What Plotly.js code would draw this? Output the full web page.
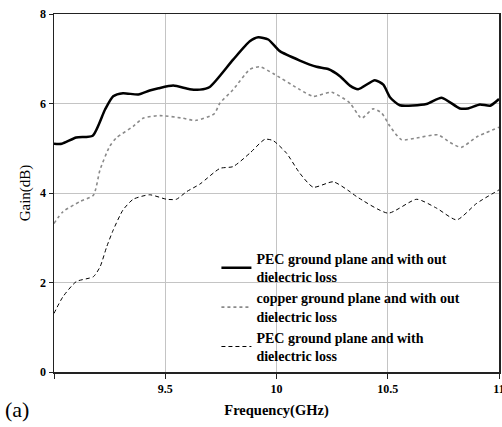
<!DOCTYPE html>
<html>
<head>
<meta charset="utf-8">
<script src="https://cdn.plot.ly/plotly-3.0.1.min.js"></script>
<style>html,body{margin:0;padding:0;background:#fff;}#chart{width:502px;height:427px;}</style>
</head>
<body>
<div id="chart"></div>
<script>
// Series 1: PEC ground plane, no dielectric loss
const freq1 = [9.0, 9.035, 9.10, 9.174, 9.229, 9.266, 9.31, 9.379, 9.43, 9.47, 9.536, 9.61, 9.656, 9.70, 9.805, 9.88, 9.918, 9.963, 10.015, 10.105, 10.18, 10.232, 10.285, 10.33, 10.367, 10.442, 10.48, 10.51, 10.554, 10.674, 10.742, 10.824, 10.861, 10.914, 10.96, 11.0];
const gain1 = [5.10, 5.10, 5.24, 5.28, 5.86, 6.16, 6.23, 6.20, 6.29, 6.34, 6.40, 6.32, 6.31, 6.37, 6.98, 7.39, 7.48, 7.43, 7.17, 6.96, 6.82, 6.77, 6.61, 6.40, 6.32, 6.52, 6.42, 6.14, 5.96, 5.99, 6.13, 5.89, 5.89, 5.98, 5.95, 6.10];
// Series 2: copper ground plane, no dielectric loss
const freq2 = [9.0, 9.04, 9.117, 9.177, 9.207, 9.25, 9.28, 9.356, 9.40, 9.476, 9.58, 9.635, 9.72, 9.746, 9.805, 9.88, 9.925, 9.985, 10.105, 10.165, 10.247, 10.33, 10.382, 10.434, 10.472, 10.51, 10.562, 10.63, 10.726, 10.78, 10.83, 10.899, 11.0];
const gain2 = [3.32, 3.58, 3.81, 3.95, 4.52, 5.04, 5.23, 5.49, 5.67, 5.73, 5.67, 5.62, 5.77, 6.01, 6.31, 6.76, 6.82, 6.67, 6.31, 6.16, 6.25, 6.01, 5.67, 5.88, 5.79, 5.49, 5.19, 5.23, 5.30, 5.13, 5.02, 5.25, 5.47];
// Series 3: PEC ground plane with dielectric loss
const freq3 = [9.0, 9.04, 9.10, 9.177, 9.207, 9.237, 9.266, 9.31, 9.356, 9.43, 9.506, 9.55, 9.596, 9.656, 9.746, 9.805, 9.88, 9.948, 9.985, 10.045, 10.105, 10.165, 10.255, 10.33, 10.36, 10.502, 10.63, 10.72, 10.81, 10.9, 11.0];
const gain3 = [1.31, 1.68, 2.02, 2.13, 2.35, 2.80, 3.17, 3.62, 3.86, 3.96, 3.86, 3.86, 4.03, 4.20, 4.55, 4.59, 4.89, 5.20, 5.17, 4.89, 4.44, 4.13, 4.25, 4.03, 3.92, 3.55, 3.86, 3.66, 3.40, 3.77, 4.07];

const seriesNames = [
  "PEC ground plane and with out<br>dielectric loss",
  "copper ground plane and with out<br>dielectric loss",
  "PEC ground plane and with<br>dielectric loss"
];
const xTickVals = [9, 9.5, 10, 10.5, 11];
const xTickText = ["", "9.5", "10", "10.5", "11"];
const yTickVals = [0, 2, 4, 6, 8];

const serif = "Liberation Serif, Times New Roman, serif";

const traces = [
  {x: freq1, y: gain1, name: seriesNames[0], mode: "lines",
   line: {color: "#000000", width: 2.5, shape: "spline", smoothing: 0.6}},
  {x: freq2, y: gain2, name: seriesNames[1], mode: "lines",
   line: {color: "#8a8a8a", width: 1.6, dash: "dot", shape: "spline", smoothing: 0.6}},
  {x: freq3, y: gain3, name: seriesNames[2], mode: "lines",
   line: {color: "#000000", width: 1, dash: "4px,3px", shape: "spline", smoothing: 0.6}}
];

const layout = {
  width: 502, height: 427,
  margin: {l: 54, r: 3, t: 14, b: 55},
  paper_bgcolor: "#ffffff", plot_bgcolor: "#ffffff",
  showlegend: true,
  font: {family: serif, color: "#000"},
  xaxis: {
    range: [9, 11], tickvals: xTickVals, ticktext: xTickText,
    showgrid: true, gridcolor: "#c4c4c4", gridwidth: 1,
    zeroline: false, showline: true, linecolor: "#222", linewidth: 1.5, mirror: true,
    ticks: "outside", ticklen: 5, tickcolor: "#222",
    ticklabeloverflow: "allow",
    tickfont: {family: serif, size: 12, color: "#000", weight: "bold"},
    title: {text: "<b>Frequency(GHz)</b>", font: {family: serif, size: 14.5, color: "#000"}, standoff: 10}
  },
  yaxis: {
    range: [0, 8], tickvals: yTickVals,
    showgrid: true, gridcolor: "#c4c4c4", gridwidth: 1,
    zeroline: false, showline: true, linecolor: "#222", linewidth: 1.5, mirror: true,
    ticks: "outside", ticklen: 4, tickcolor: "#222",
    tickfont: {family: serif, size: 12, color: "#000", weight: "bold"},
    title: {text: "Gain(dB)", font: {family: serif, size: 15, color: "#000"}, standoff: 6}
  },
  legend: {
    x: 0.365, y: 0.0, xanchor: "left", yanchor: "bottom",
    bgcolor: "rgba(255,255,255,0)", borderwidth: 0,
    font: {family: serif, size: 14, color: "#000", weight: "bold"},
    tracegroupgap: 0, itemwidth: 30
  },
  annotations: [
    {text: "(a)", xref: "paper", yref: "paper", x: -0.112, y: -0.142,
     xanchor: "left", yanchor: "bottom", showarrow: false, borderpad: 0,
     font: {family: serif, size: 22, color: "#000"}}
  ]
};

Plotly.newPlot("chart", traces, layout, {displayModeBar: false, staticPlot: true});
</script>
</body>
</html>
